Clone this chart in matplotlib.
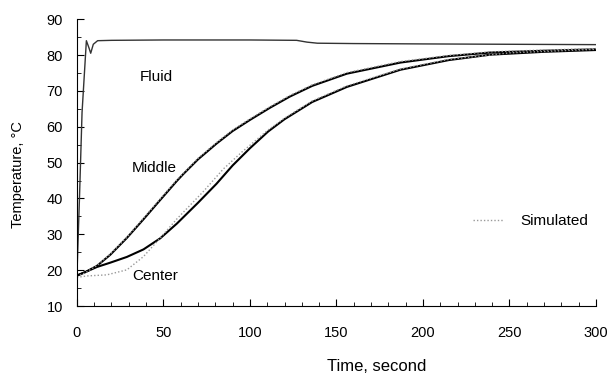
import matplotlib.pyplot as plt
from matplotlib.ticker import MultipleLocator

plt.rcParams['font.family'] = ['Liberation Sans', 'DejaVu Sans']

# measured fluid temperature
t_fluid = [0, 1.5, 3, 5.5, 7, 8, 9.5, 12, 20, 50, 100, 127, 133, 139, 160, 200, 250, 300]
T_fluid = [18, 40, 64, 84, 82, 80.5, 83, 84, 84.1, 84.2, 84.2, 84.1, 83.6, 83.3, 83.2, 83.1, 83.0, 82.9]

# measured middle temperature
t_mid = [0, 5, 11.6, 19.3, 28.9, 38.5, 48.2, 57.8, 61.5, 70, 80.7, 90, 100, 111.6, 123, 136, 156, 187, 215, 239, 270, 300]
T_mid = [18.5, 19.5, 21.2, 24.3, 29.0, 34.2, 39.6, 44.9, 46.8, 50.9, 55.3, 58.8, 61.9, 65.3, 68.4, 71.4, 74.8, 77.9, 79.7, 80.7, 81.2, 81.6]

# measured center temperature
t_cen = [0, 5, 11.6, 19.3, 28.9, 38.5, 48.2, 57.8, 70, 80.7, 90, 100, 110.6, 120, 136, 156, 187, 215, 239, 270, 300]
T_cen = [18.5, 19.5, 20.9, 22.1, 23.7, 25.8, 28.9, 33.0, 38.8, 44.1, 49.2, 54.0, 58.7, 62.1, 66.9, 71.1, 75.9, 78.6, 80.1, 80.9, 81.4]

# simulated middle and center
t_sim_mid = [0, 5, 11.6, 19.3, 28.9, 38.5, 48.2, 57.8, 70, 80.7, 90, 100, 111.6, 123, 136, 156, 187, 215, 239, 270, 300]
T_sim_mid = [18.2, 19.3, 21.3, 24.5, 29.2, 34.5, 39.9, 45.2, 51.2, 55.6, 59.1, 62.2, 65.6, 68.7, 71.7, 75.1, 78.2, 79.9, 80.9, 81.4, 81.8]

t_sim_cen = [0, 5.8, 17.3, 28.9, 38.5, 48.2, 57.8, 73, 84.6, 95, 110, 120, 136, 156, 187, 215, 250, 300]
T_sim_cen = [18, 18.4, 18.7, 20.1, 23.8, 29.0, 34.3, 41.9, 48.2, 52.8, 58.9, 62.4, 67.2, 71.4, 76.1, 78.8, 80.6, 81.6]

fig = plt.figure(figsize=(6.1, 3.76), dpi=100)
ax = fig.add_axes([0.126, 0.186, 0.851, 0.763])

ax.plot(t_fluid, T_fluid, color='0.2', lw=1.0)
ax.plot(t_mid, T_mid, color='black', lw=1.5)
ax.plot(t_cen, T_cen, color='black', lw=1.5)
ax.plot(t_sim_mid, T_sim_mid, color='0.6', lw=1.0, ls=(0, (1, 1.5)))
sim, = ax.plot(t_sim_cen, T_sim_cen, color='0.6', lw=1.0, ls=(0, (1, 1.5)), label='Simulated')

ax.text(46, 74.0, 'Fluid', fontsize=11, ha='center', va='center')
ax.text(45, 48.6, 'Middle', fontsize=11, ha='center', va='center')
ax.text(45, 18.4, 'Center', fontsize=11, ha='center', va='center')

ax.legend(handles=[sim], loc='center left', bbox_to_anchor=(0.737, 0.295),
          frameon=False, fontsize=11, handlelength=2.0, handletextpad=1.1)

ax.set_xlim(0, 300)
ax.set_ylim(10, 90)
ax.xaxis.set_major_locator(MultipleLocator(50))
ax.xaxis.set_minor_locator(MultipleLocator(10))
ax.yaxis.set_major_locator(MultipleLocator(10))
ax.yaxis.set_minor_locator(MultipleLocator(5))
ax.tick_params(which='both', direction='in', labelsize=10.5)
ax.tick_params(which='major', length=5, pad=14)
ax.tick_params(axis='y', which='major', pad=10)
ax.tick_params(which='minor', length=3)
ax.spines['top'].set_visible(False)
ax.spines['right'].set_visible(False)

ax.set_xlabel('Time, second', fontsize=12)
ax.xaxis.set_label_coords(0.578, -0.185)
ax.set_ylabel('Temperature, °C', fontsize=10.5)
ax.yaxis.set_label_coords(-0.1, 0.46)

fig.savefig('out.png', dpi=100)
